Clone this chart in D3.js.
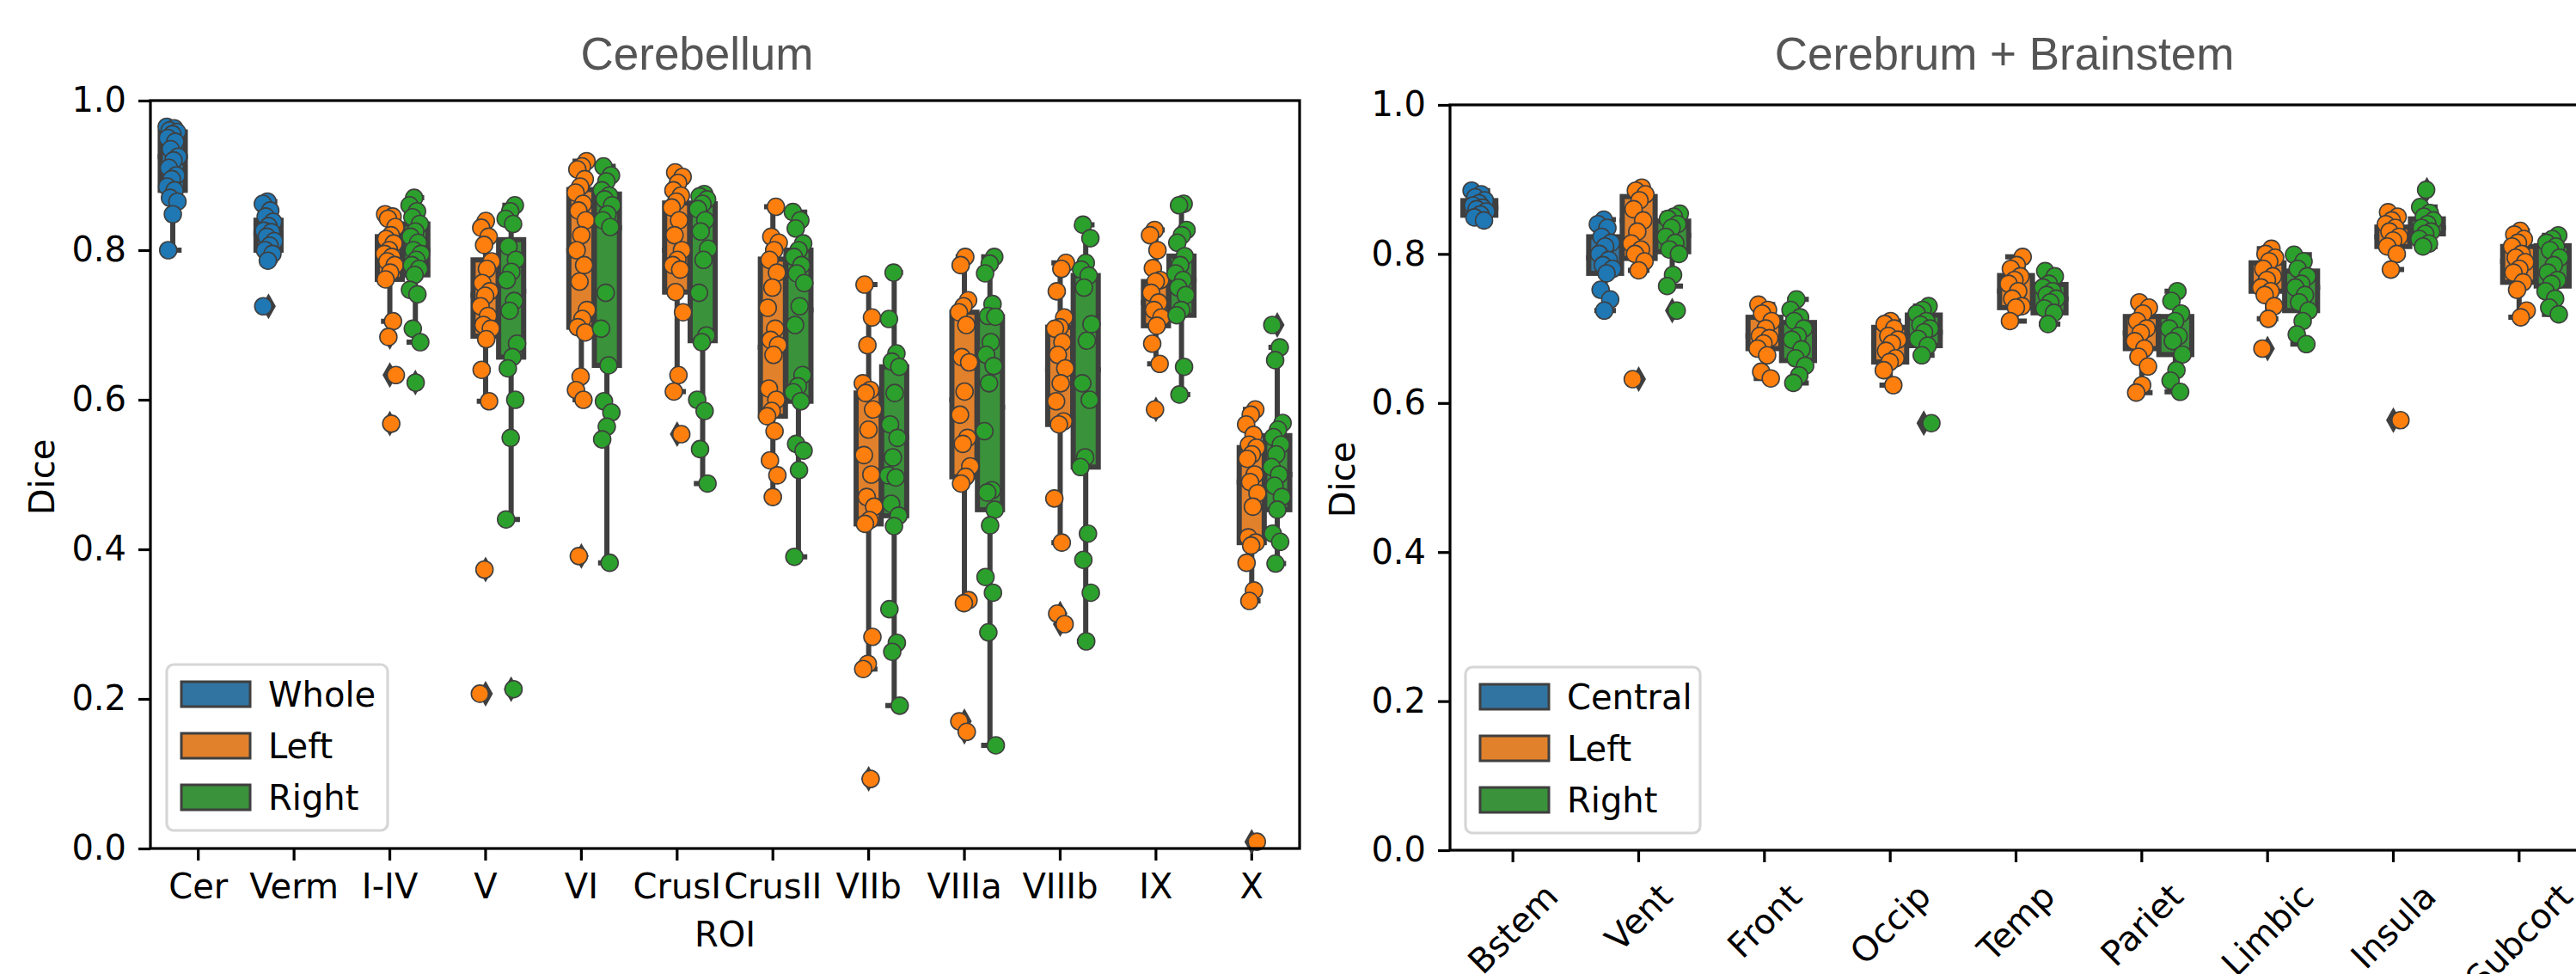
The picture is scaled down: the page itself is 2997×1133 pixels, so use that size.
<!DOCTYPE html>
<html>
<head>
<meta charset="utf-8">
<script src="https://cdn.jsdelivr.net/npm/d3@7"></script>
<style>
body { margin: 0; background: #fff; }
svg { display: block; }
</style>
</head>
<body>
<div id="chart"></div>
<script>
// ---- cerebellum data ----
var cbRois = ["Cer", "Verm", "I-IV", "V", "VI", "CrusI", "CrusII", "VIIb", "VIIIa", "VIIIb", "IX", "X"];
var cbHues = ["Whole", "Left", "Right"];

// dice values per ROI (null where that side is not used)
var cbWholePts = [
  [0.965, 0.963, 0.96, 0.958, 0.955, 0.95, 0.945, 0.935, 0.925, 0.92, 0.91, 0.90, 0.895, 0.885, 0.88, 0.87, 0.865, 0.848, 0.80],
  [0.865, 0.862, 0.853, 0.845, 0.838, 0.832, 0.826, 0.824, 0.818, 0.812, 0.806, 0.80, 0.795, 0.786, 0.725],
  null, null, null, null, null, null, null, null, null, null
];
var cbLeftPts = [
  null, null,
  [0.848, 0.845, 0.842, 0.831, 0.82, 0.815, 0.809, 0.80, 0.795, 0.791, 0.785, 0.78, 0.77, 0.761, 0.705, 0.684, 0.633, 0.568],
  [0.839, 0.83, 0.818, 0.807, 0.785, 0.775, 0.756, 0.745, 0.739, 0.725, 0.712, 0.70, 0.695, 0.681, 0.640, 0.598, 0.373, 0.207],
  [0.919, 0.912, 0.908, 0.895, 0.885, 0.877, 0.862, 0.853, 0.84, 0.82, 0.80, 0.78, 0.758, 0.72, 0.708, 0.697, 0.690, 0.631, 0.613, 0.600, 0.391],
  [0.904, 0.898, 0.890, 0.880, 0.873, 0.865, 0.857, 0.84, 0.82, 0.80, 0.787, 0.78, 0.774, 0.744, 0.717, 0.633, 0.611, 0.554],
  [0.858, 0.818, 0.81, 0.80, 0.787, 0.77, 0.75, 0.723, 0.695, 0.68, 0.673, 0.660, 0.615, 0.60, 0.585, 0.578, 0.558, 0.519, 0.499, 0.470],
  [0.754, 0.710, 0.673, 0.622, 0.613, 0.609, 0.587, 0.56, 0.526, 0.50, 0.47, 0.457, 0.439, 0.434, 0.283, 0.247, 0.240, 0.093],
  [0.791, 0.780, 0.733, 0.725, 0.717, 0.70, 0.657, 0.650, 0.611, 0.580, 0.549, 0.541, 0.511, 0.497, 0.488, 0.332, 0.328, 0.170, 0.156],
  [0.783, 0.775, 0.745, 0.710, 0.697, 0.695, 0.677, 0.66, 0.642, 0.622, 0.598, 0.571, 0.567, 0.468, 0.409, 0.314, 0.300],
  [0.827, 0.82, 0.80, 0.776, 0.76, 0.758, 0.743, 0.73, 0.72, 0.71, 0.699, 0.675, 0.648, 0.587],
  [0.587, 0.58, 0.567, 0.553, 0.54, 0.536, 0.527, 0.521, 0.50, 0.49, 0.475, 0.457, 0.416, 0.409, 0.405, 0.382, 0.345, 0.331, 0.009]
];
var cbRightPts = [
  null, null,
  [0.870, 0.860, 0.852, 0.844, 0.835, 0.825, 0.818, 0.81, 0.80, 0.795, 0.787, 0.78, 0.775, 0.767, 0.747, 0.741, 0.695, 0.677, 0.623],
  [0.860, 0.852, 0.842, 0.835, 0.805, 0.787, 0.771, 0.76, 0.732, 0.719, 0.675, 0.657, 0.642, 0.600, 0.549, 0.440, 0.213],
  [0.912, 0.900, 0.892, 0.880, 0.873, 0.868, 0.860, 0.848, 0.840, 0.831, 0.743, 0.695, 0.646, 0.598, 0.583, 0.564, 0.547, 0.382],
  [0.875, 0.872, 0.868, 0.862, 0.855, 0.84, 0.825, 0.802, 0.787, 0.743, 0.686, 0.677, 0.600, 0.585, 0.534, 0.488],
  [0.851, 0.840, 0.829, 0.809, 0.80, 0.791, 0.78, 0.769, 0.756, 0.725, 0.70, 0.633, 0.618, 0.61, 0.598, 0.541, 0.532, 0.506, 0.390],
  [0.770, 0.708, 0.662, 0.651, 0.644, 0.609, 0.567, 0.549, 0.523, 0.499, 0.496, 0.461, 0.445, 0.431, 0.320, 0.275, 0.263, 0.191],
  [0.791, 0.782, 0.769, 0.728, 0.712, 0.711, 0.677, 0.660, 0.645, 0.622, 0.558, 0.479, 0.476, 0.453, 0.432, 0.363, 0.342, 0.289, 0.138],
  [0.834, 0.816, 0.783, 0.774, 0.766, 0.750, 0.701, 0.679, 0.622, 0.60, 0.523, 0.51, 0.421, 0.386, 0.342, 0.277],
  [0.862, 0.860, 0.827, 0.82, 0.81, 0.792, 0.78, 0.769, 0.76, 0.75, 0.74, 0.72, 0.713, 0.644, 0.607],
  [0.70, 0.670, 0.653, 0.569, 0.56, 0.55, 0.54, 0.527, 0.51, 0.50, 0.485, 0.47, 0.453, 0.421, 0.41, 0.381]
];

// box stats: [whisker low, q1, median, q3, whisker high]
var cbWholeBox = [[0.80, 0.880, 0.925, 0.958, 0.965], [0.786, 0.80, 0.822, 0.840, 0.865],
  null, null, null, null, null, null, null, null, null, null];
var cbLeftBox = [null, null,
  [0.705, 0.761, 0.792, 0.818, 0.848],
  [0.598, 0.685, 0.740, 0.787, 0.839],
  [0.600, 0.697, 0.800, 0.881, 0.919],
  [0.611, 0.744, 0.800, 0.863, 0.904],
  [0.470, 0.578, 0.670, 0.788, 0.858],
  [0.240, 0.434, 0.530, 0.609, 0.754],
  [0.328, 0.497, 0.600, 0.717, 0.791],
  [0.409, 0.567, 0.640, 0.697, 0.783],
  [0.648, 0.699, 0.730, 0.758, 0.827],
  [0.331, 0.409, 0.490, 0.536, 0.587]];
var cbRightBox = [null, null,
  [0.677, 0.767, 0.800, 0.835, 0.870],
  [0.440, 0.657, 0.745, 0.814, 0.860],
  [0.382, 0.646, 0.830, 0.875, 0.912],
  [0.488, 0.679, 0.810, 0.862, 0.875],
  [0.390, 0.598, 0.720, 0.800, 0.851],
  [0.191, 0.445, 0.550, 0.644, 0.770],
  [0.138, 0.453, 0.590, 0.711, 0.791],
  [0.277, 0.510, 0.640, 0.766, 0.834],
  [0.607, 0.713, 0.760, 0.792, 0.862],
  [0.381, 0.453, 0.500, 0.552, 0.670]];

// ---- cerebrum + brainstem data ----
var crRois = ["Bstem", "Vent", "Front", "Occip", "Temp", "Pariet", "Limbic", "Insula", "Subcort"];
var crHues = ["Central", "Left", "Right"];

var crCentralPts = [
  [0.885, 0.880, 0.876, 0.872, 0.868, 0.865, 0.862, 0.86, 0.857, 0.853, 0.849, 0.845],
  [0.846, 0.84, 0.835, 0.823, 0.815, 0.81, 0.80, 0.792, 0.785, 0.78, 0.774, 0.752, 0.739, 0.724],
  null, null, null, null, null, null, null
];
var crLeftPts = [
  null,
  [0.889, 0.885, 0.88, 0.872, 0.86, 0.845, 0.83, 0.814, 0.806, 0.80, 0.79, 0.778, 0.632],
  [0.732, 0.725, 0.72, 0.71, 0.70, 0.69, 0.687, 0.68, 0.673, 0.664, 0.642, 0.633],
  [0.710, 0.706, 0.70, 0.69, 0.685, 0.68, 0.67, 0.66, 0.655, 0.644, 0.624],
  [0.796, 0.785, 0.78, 0.77, 0.765, 0.76, 0.75, 0.74, 0.73, 0.728, 0.71],
  [0.735, 0.728, 0.72, 0.71, 0.70, 0.694, 0.683, 0.673, 0.662, 0.649, 0.624, 0.614],
  [0.807, 0.80, 0.795, 0.79, 0.78, 0.77, 0.765, 0.755, 0.75, 0.745, 0.73, 0.713, 0.673],
  [0.856, 0.85, 0.845, 0.84, 0.835, 0.83, 0.823, 0.818, 0.81, 0.80, 0.779, 0.577],
  [0.831, 0.826, 0.82, 0.815, 0.81, 0.80, 0.795, 0.789, 0.78, 0.775, 0.762, 0.752, 0.724, 0.715]
];
var crRightPts = [
  null,
  [0.854, 0.850, 0.847, 0.84, 0.835, 0.823, 0.815, 0.806, 0.80, 0.772, 0.757, 0.724],
  [0.739, 0.725, 0.715, 0.71, 0.70, 0.69, 0.685, 0.672, 0.66, 0.65, 0.637, 0.627],
  [0.730, 0.725, 0.72, 0.71, 0.705, 0.70, 0.695, 0.686, 0.677, 0.664, 0.573],
  [0.777, 0.77, 0.76, 0.755, 0.75, 0.745, 0.74, 0.735, 0.727, 0.721, 0.706],
  [0.750, 0.737, 0.72, 0.71, 0.70, 0.69, 0.683, 0.665, 0.644, 0.63, 0.615],
  [0.799, 0.79, 0.78, 0.77, 0.76, 0.755, 0.745, 0.735, 0.724, 0.71, 0.692, 0.679],
  [0.886, 0.863, 0.855, 0.85, 0.845, 0.84, 0.835, 0.83, 0.827, 0.82, 0.814, 0.81],
  [0.825, 0.82, 0.815, 0.81, 0.805, 0.795, 0.785, 0.775, 0.765, 0.76, 0.75, 0.74, 0.728, 0.719]
];

var crCentralBox = [[0.845, 0.852, 0.862, 0.8715, 0.885], [0.724, 0.774, 0.795, 0.823, 0.846],
  null, null, null, null, null, null, null];
var crLeftBox = [null,
  [0.778, 0.794, 0.845, 0.877, 0.889],
  [0.633, 0.673, 0.690, 0.715, 0.732],
  [0.624, 0.655, 0.680, 0.7015, 0.710],
  [0.710, 0.728, 0.750, 0.771, 0.796],
  [0.614, 0.673, 0.694, 0.716, 0.735],
  [0.713, 0.750, 0.765, 0.788, 0.807],
  [0.779, 0.810, 0.823, 0.836, 0.856],
  [0.715, 0.762, 0.790, 0.810, 0.831]];
var crRightBox = [null,
  [0.757, 0.803, 0.825, 0.844, 0.854],
  [0.627, 0.657, 0.686, 0.708, 0.739],
  [0.664, 0.677, 0.695, 0.718, 0.730],
  [0.706, 0.721, 0.740, 0.759, 0.777],
  [0.615, 0.665, 0.690, 0.716, 0.750],
  [0.679, 0.724, 0.755, 0.777, 0.799],
  [0.810, 0.827, 0.835, 0.847, 0.863],
  [0.719, 0.757, 0.785, 0.811, 0.825]];

var yTicks = [0, 0.2, 0.4, 0.6, 0.8, 1.0];

// colours: full for points, desaturated for boxes (seaborn style)
var pointColors = ["#1f77b4", "#ff7f0e", "#2ca02c"];
var boxColors = ["#3274a1", "#e1812c", "#3a923a"];
var lineGray = "#3f3f3f";
var tickFont = "DejaVu Sans";

var W = 2997, H = 1133;
var svg = d3.select("#chart").append("svg").attr("width", W).attr("height", H);

var panels = [
  {title: "Cerebellum", titleX: 811, rois: cbRois, hues: cbHues,
   pts: [cbWholePts, cbLeftPts, cbRightPts], boxes: [cbWholeBox, cbLeftBox, cbRightBox],
   x0: 175, x1: 1512, y0: 117, y1: 987, ylabX: 63, ylabY: 555, xlabel: "ROI", rotate: false,
   legend: {x: 194, y: 773, w: 257, h: 193}, jit: 7},
  {title: "Cerebrum + Brainstem", titleX: 2332, rois: crRois, hues: crHues,
   pts: [crCentralPts, crLeftPts, crRightPts], boxes: [crCentralBox, crLeftBox, crRightBox],
   x0: 1687, x1: 3004, y0: 122, y1: 989, ylabX: 1576, ylabY: 558, xlabel: null, rotate: true,
   legend: {x: 1705, y: 776, w: 273, h: 193}, jit: 9}
];

panels.forEach(drawPanel);

function drawPanel(p) {
  var x = d3.scaleBand().domain(p.rois).range([p.x0, p.x1]);
  var y = d3.scaleLinear().domain([0, 1]).range([p.y1, p.y0]);
  var bw = x.bandwidth() * 0.8 / 3;   // dodge step per hue
  var boxW = bw * 0.98;
  var g = svg.append("g");

  function cx(roi, h) { return x(roi) + x.bandwidth() / 2 + (h - 1) * bw; }

  // title
  g.append("text")
    .attr("x", p.titleX).attr("y", 81)
    .attr("text-anchor", "middle")
    .attr("font-family", "Liberation Sans")
    .attr("font-size", 53)
    .attr("fill", "#555555")
    .text(p.title);

  // y axis
  var ya = g.append("g")
    .attr("transform", "translate(" + p.x0 + ",0)")
    .call(d3.axisLeft(y).tickValues(yTicks).tickFormat(d3.format(".1f")).tickSize(14).tickPadding(14));
  ya.select(".domain").remove();
  ya.selectAll("line").attr("stroke-width", 3.2);
  ya.selectAll("text").attr("font-family", tickFont).attr("font-size", 40).attr("fill", "#000");

  // x axis
  var xa = g.append("g")
    .attr("transform", "translate(0," + p.y1 + ")")
    .call(d3.axisBottom(x).tickSize(14).tickPadding(16));
  xa.select(".domain").remove();
  xa.selectAll("line").attr("stroke-width", 3.2);
  xa.selectAll("text").attr("font-family", tickFont).attr("font-size", 40).attr("fill", "#000");
  if (p.rotate) {
    xa.selectAll("text").each(function() {
      var t = d3.select(this);
      var L = this.getComputedTextLength();
      var half = (L + 46) * Math.SQRT1_2 / 2;
      t.attr("y", null).attr("dy", null)
        .attr("text-anchor", "middle")
        .attr("dominant-baseline", "central")
        .attr("transform", "translate(0," + (30 + half) + ") rotate(-45)");
    });
  }

  // axis labels
  g.append("text")
    .attr("transform", "translate(" + p.ylabX + "," + p.ylabY + ") rotate(-90)")
    .attr("text-anchor", "middle")
    .attr("font-family", tickFont).attr("font-size", 40)
    .text("Dice");
  if (p.xlabel) {
    g.append("text")
      .attr("x", (p.x0 + p.x1) / 2).attr("y", 1101)
      .attr("text-anchor", "middle")
      .attr("font-family", tickFont).attr("font-size", 40)
      .text(p.xlabel);
  }

  // boxes: whiskers, caps and medians sit under the filled box
  p.boxes.forEach(function(series, h) {
    var items = p.rois.map(function(r, i) { return {roi: r, s: series[i]}; })
      .filter(function(d) { return d.s; });
    var bg = g.append("g");
    bg.selectAll("path.whisk").data(items).enter().append("path")
      .attr("d", function(d) {
        var c = cx(d.roi, h), cw = boxW / 4;
        return "M" + c + "," + y(d.s[1]) + "V" + y(d.s[0]) +
          "M" + c + "," + y(d.s[3]) + "V" + y(d.s[4]) +
          "M" + (c - cw) + "," + y(d.s[0]) + "H" + (c + cw) +
          "M" + (c - cw) + "," + y(d.s[4]) + "H" + (c + cw) +
          "M" + (c - boxW / 2) + "," + y(d.s[2]) + "H" + (c + boxW / 2);
      })
      .attr("fill", "none")
      .attr("stroke", lineGray)
      .attr("stroke-linecap", "square")
      .attr("stroke-width", 6);
    bg.selectAll("rect").data(items).enter().append("rect")
      .attr("x", function(d) { return cx(d.roi, h) - boxW / 2; })
      .attr("y", function(d) { return y(d.s[3]); })
      .attr("width", boxW)
      .attr("height", function(d) { return y(d.s[1]) - y(d.s[3]); })
      .attr("fill", boxColors[h])
      .attr("stroke", lineGray)
      .attr("stroke-width", 6);

    // fliers (thin diamonds), drawn by the box plot
    var fl = [];
    p.rois.forEach(function(r, i) {
      var s = series[i], vals = p.pts[h][i];
      if (!s || !vals) return;
      vals.forEach(function(v) { if (v < s[0] || v > s[4]) fl.push({roi: r, v: v}); });
    });
    bg.selectAll("path.flier").data(fl).enter().append("path")
      .attr("d", "M0,-15L8.5,0L0,15L-8.5,0Z")
      .attr("transform", function(d) { return "translate(" + cx(d.roi, h) + "," + y(d.v) + ")"; })
      .attr("fill", lineGray);
  });

  // strip points on top
  p.pts.forEach(function(series, h) {
    var pts = [];
    p.rois.forEach(function(r, i) {
      if (!series[i]) return;
      series[i].forEach(function(v, j) {
        var jf = ((j * 0.618034 + h * 0.29 + i * 0.41) % 1) - 0.5;
        pts.push({roi: r, v: v, dx: jf * 2 * p.jit});
      });
    });
    g.append("g").selectAll("circle").data(pts).enter().append("circle")
      .attr("cx", function(d) { return cx(d.roi, h) + d.dx; })
      .attr("cy", function(d) { return y(d.v); })
      .attr("r", 10)
      .attr("fill", pointColors[h])
      .attr("stroke", lineGray)
      .attr("stroke-width", 1.6);
  });

  // frame
  g.append("rect")
    .attr("x", p.x0).attr("y", p.y0)
    .attr("width", p.x1 - p.x0).attr("height", p.y1 - p.y0)
    .attr("fill", "none")
    .attr("stroke", "#000")
    .attr("stroke-width", 3.2);

  // legend
  var lg = g.append("g").attr("transform", "translate(" + p.legend.x + "," + p.legend.y + ")");
  lg.append("rect")
    .attr("width", p.legend.w).attr("height", p.legend.h)
    .attr("rx", 8)
    .attr("fill", "#fff").attr("fill-opacity", 0.8)
    .attr("stroke", "#d6d6d6").attr("stroke-width", 3.2);
  var rows = lg.selectAll("g.row").data(p.hues).enter().append("g")
    .attr("transform", function(d, i) { return "translate(17," + (20 + i * 60) + ")"; });
  rows.append("rect")
    .attr("width", 80).attr("height", 29)
    .attr("fill", function(d, i) { return boxColors[i]; })
    .attr("stroke", lineGray).attr("stroke-width", 3);
  rows.append("text")
    .attr("x", 101).attr("y", 29)
    .attr("font-family", tickFont).attr("font-size", 40)
    .text(function(d) { return d; });
}
</script>
</body>
</html>
